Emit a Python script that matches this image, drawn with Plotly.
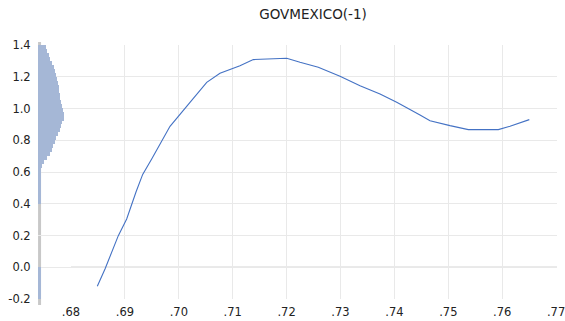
import numpy as np
import plotly.graph_objects as go

# ---- data ----
title_text = "GOVMEXICO(-1)"

curve_x = [0.68488, 0.68631, 0.68878, 0.69033, 0.69206, 0.69330, 0.69497, 0.69837,
           0.70208, 0.70518, 0.70764, 0.71135, 0.71382, 0.71692, 0.72002, 0.72249,
           0.72588, 0.72991, 0.73362, 0.73733, 0.74043, 0.74475, 0.74661, 0.75032,
           0.75371, 0.75928, 0.76145, 0.76503]
curve_y = [-0.120, -0.011, 0.199, 0.304, 0.474, 0.585, 0.682, 0.888,
           1.039, 1.165, 1.222, 1.270, 1.308, 1.312, 1.317, 1.291,
           1.260, 1.203, 1.144, 1.092, 1.039, 0.959, 0.923, 0.892,
           0.867, 0.867, 0.888, 0.930]

# marginal histogram of the y variable (bin centres, relative frequency)
hist_y = list(np.round(np.arange(-0.1875, 1.42, 0.025), 4))
hist_freq = [3, 3, 3, 3, 3, 3, 3, 3,
             0, 0, 0, 0, 0, 0, 0, 0, 0, 0, 0, 0, 0, 0, 0, 0,
             3, 3, 3, 3, 3, 3, 3, 3.5,
             3.5, 4, 6, 9, 12, 14, 15.5, 17, 18.5, 20, 22, 23.5, 24.5, 26, 26, 25.5,
             24.5, 23.5, 22.5, 22, 21.5, 21, 20.5, 19.5, 18, 17, 16, 14, 12.5, 11,
             9.5, 8, 7]

x_ticks = [0.68, 0.69, 0.70, 0.71, 0.72, 0.73, 0.74, 0.75, 0.76, 0.77]
x_labels = [".68", ".69", ".70", ".71", ".72", ".73", ".74", ".75", ".76", ".77"]
x_grid = [0.69, 0.70, 0.71, 0.72, 0.73, 0.74, 0.75, 0.76]
y_ticks = [-0.2, 0.0, 0.2, 0.4, 0.6, 0.8, 1.0, 1.2, 1.4]
y_labels = ["-0.2", "0.0", "0.2", "0.4", "0.6", "0.8", "1.0", "1.2", "1.4"]
y_grid = [0.0, 0.2, 0.4, 0.6, 0.8, 1.0, 1.2]

x_range = [0.673878, 0.770167]
y_range = [-0.2, 1.4]

LINE = "#4472c4"
HIST = "#a5b7d6"
GRID = "#e9e9e9"
FONT = "DejaVu Sans"

fig = go.Figure()
fig.add_trace(go.Bar(y=hist_y, x=hist_freq, orientation="h", width=0.0262,
                     xaxis="x2", yaxis="y",
                     marker=dict(color=HIST, line=dict(width=0)),
                     showlegend=False, hoverinfo="skip"))
fig.add_trace(go.Scatter(x=curve_x, y=curve_y, mode="lines",
                         line=dict(color=LINE, width=1.1), showlegend=False))

fig.update_layout(
    width=565, height=321,
    margin=dict(l=38, r=8, t=45, b=22, pad=0),
    paper_bgcolor="white", plot_bgcolor="rgba(0,0,0,0)",
    font=dict(family=FONT, size=11.5, color="#222222"),
    title=dict(text=title_text, x=313 / 565, xref="container", xanchor="center",
               y=1 - 14 / 321, yref="container", yanchor="middle",
               font=dict(family=FONT, size=13.5, color="#222222")),
    xaxis=dict(range=x_range, tickmode="array", tickvals=x_ticks, ticktext=x_labels,
               showgrid=False, zeroline=False, showline=False,
               ticks="outside", ticklen=0, automargin=False, ticklabelstandoff=2,
               ticklabeloverflow="allow",
               minor=dict(tickmode="array", tickvals=x_grid, ticks="inside", ticklen=0,
                          showgrid=True, gridcolor=GRID, gridwidth=1.3)),
    xaxis2=dict(domain=[0, 0.1], range=[0, 52], anchor="y", visible=False,
                automargin=False),
    yaxis=dict(range=y_range, tickmode="array", tickvals=y_ticks, ticktext=y_labels,
               showgrid=False, zeroline=False, showline=False,
               ticks="outside", ticklen=0, automargin=False, ticklabelstandoff=4,
               ticklabeloverflow="allow",
               minor=dict(tickmode="array", tickvals=y_grid, ticks="inside", ticklen=0,
                          showgrid=True, gridcolor=GRID, gridwidth=1.3)),
    bargap=0,
)

# left axis rule and the zero reference line
fig.add_shape(type="line", xref="paper", yref="paper", x0=0.003, x1=0.003,
              y0=-0.024, y1=1.012, line=dict(color="#c8c8c8", width=3), layer="below")
fig.add_shape(type="line", xref="x", yref="y", x0=x_ticks[0], x1=x_range[1],
              y0=0, y1=0, line=dict(color="#d6d6d6", width=1.5), layer="below")

fig.write_html("out.html")
